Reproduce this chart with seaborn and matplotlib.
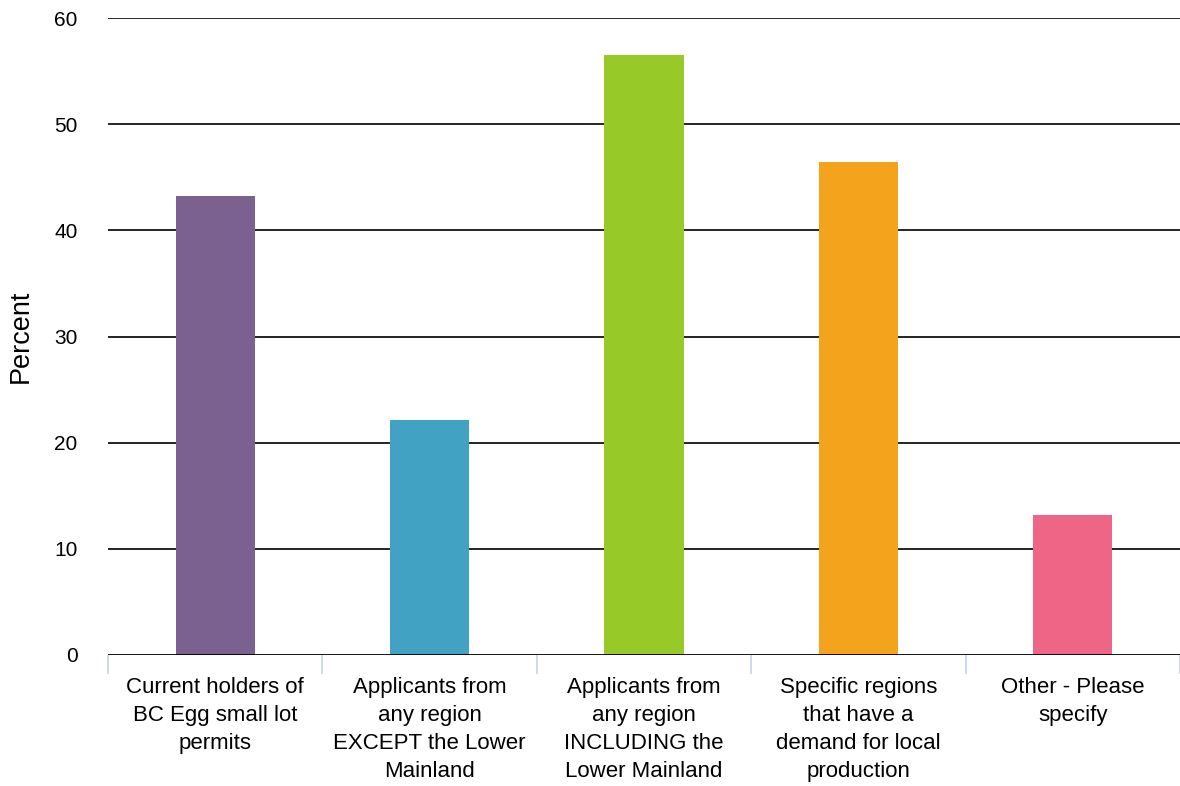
import matplotlib
matplotlib.use("Agg")
import matplotlib.pyplot as plt
import seaborn as sns
import pandas as pd
import numpy as np

categories = [
    "Current holders of\nBC Egg small lot\npermits",
    "Applicants from\nany region\nEXCEPT the Lower\nMainland",
    "Applicants from\nany region\nINCLUDING the\nLower Mainland",
    "Specific regions\nthat have a\ndemand for local\nproduction",
    "Other - Please\nspecify",
]
values = [43.2, 22.1, 56.5, 46.4, 13.2]
colors = ["#7B6190", "#41A2C3", "#97C928", "#F3A41C", "#EF6586"]
yticks = [0, 10, 20, 30, 40, 50, 60]

sns.set_theme(style="white")
plt.rcParams["font.family"] = ["Liberation Sans", "DejaVu Sans"]
plt.rcParams["text.color"] = "black"
plt.rcParams["xtick.color"] = "black"
plt.rcParams["ytick.color"] = "black"
plt.rcParams["axes.labelcolor"] = "black"

df = pd.DataFrame({"cat": categories, "val": values})

fig = plt.figure(figsize=(11.8, 7.86), dpi=100)
ax = fig.add_axes([108 / 1180, 1 - 655 / 786, 1 - 108 / 1180, (655 - 18) / 786])

sns.barplot(data=df, x="cat", y="val", hue="cat", palette=colors, width=0.37,
            legend=False, ax=ax, saturation=1, zorder=3, linewidth=0)

ax.set_ylim(0, 60)
ax.set_xlim(-0.5, 4.5)
ax.set_yticks(yticks)
ax.set_yticklabels([str(t) for t in yticks], fontsize=15)
for t in yticks[1:]:
    ax.axhline(t, color="black", lw=1.2, zorder=1)
ax.axhline(0, color="black", lw=2, zorder=4)

for s in ["top", "right", "left", "bottom"]:
    ax.spines[s].set_visible(False)

ax.tick_params(axis="y", length=0, pad=22)
ax.set_xticks(range(len(categories)))
ax.set_xticklabels(categories, fontsize=16, linespacing=1.44)
ax.tick_params(axis="x", which="major", length=0, pad=16)
ax.set_xticks(np.arange(-0.5, 5.0, 1.0), minor=True)
ax.tick_params(axis="x", which="minor", bottom=True, length=14, color="#C6D4EA", width=1.2)

ax.set_xlabel("")
ax.set_ylabel("Percent", fontsize=19.5)
ax.yaxis.set_label_coords(-74 / 1072, 0.5)

fig.savefig("out.png", dpi=100)
